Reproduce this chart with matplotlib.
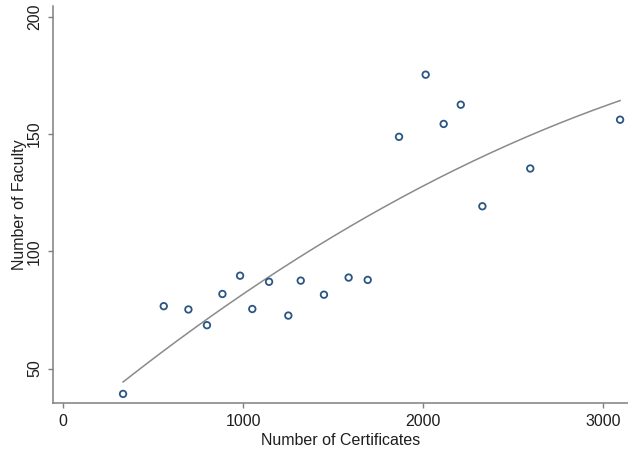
import matplotlib.pyplot as plt
import numpy as np

# certificates (x) vs faculty (y)
certificates = [332, 558, 695, 798, 884, 982, 1050, 1143, 1250, 1319,
                1448, 1585, 1691, 1865, 2013, 2113, 2208, 2328, 2594, 3093]
faculty = [39.2, 76.6, 75.2, 68.5, 81.8, 89.6, 75.4, 87.0, 72.6, 87.5,
           81.5, 88.8, 87.8, 148.8, 175.3, 154.3, 162.5, 119.2, 135.3, 156.1]

x_ticks = [0, 1000, 2000, 3000]
y_ticks = [50, 100, 150, 200]

plt.rcParams['font.family'] = ['Liberation Sans', 'DejaVu Sans']

fig = plt.figure(figsize=(6.28, 4.54), dpi=100)
ax = fig.add_axes([0.0839, 0.1117, 0.9161, 0.8757])

# quadratic fit line (like stata qfit)
coef = np.polyfit(certificates, faculty, 2)
xs = np.linspace(min(certificates), max(certificates), 200)
ax.plot(xs, np.polyval(coef, xs), color='#8a8a8a', linewidth=1.1, zorder=2)

ax.scatter(certificates, faculty, s=22, facecolors='none',
           edgecolors='#2a5684', linewidths=1.3, zorder=3)

ax.set_xlim(-58.9, 3137)
ax.set_ylim(35.2, 204.7)
ax.set_xticks(x_ticks)
ax.set_yticks(y_ticks)
ax.set_yticklabels([str(v) for v in y_ticks], rotation=90, va='center')

for side in ['top', 'right']:
    ax.spines[side].set_visible(False)
for side in ['left', 'bottom']:
    ax.spines[side].set_color('#7f7f7f')
    ax.spines[side].set_linewidth(1.1)
ax.tick_params(colors='#7f7f7f', length=3.6, width=1.0, labelsize=11.5,
               labelcolor='#1e1e1e', pad=4)

ax.set_xlabel('Number of Certificates', fontsize=11.5, color='#1e1e1e', labelpad=3)
ax.set_ylabel('Number of Faculty', fontsize=11.5, color='#1e1e1e', labelpad=0)

plt.savefig('out.png', dpi=100)
